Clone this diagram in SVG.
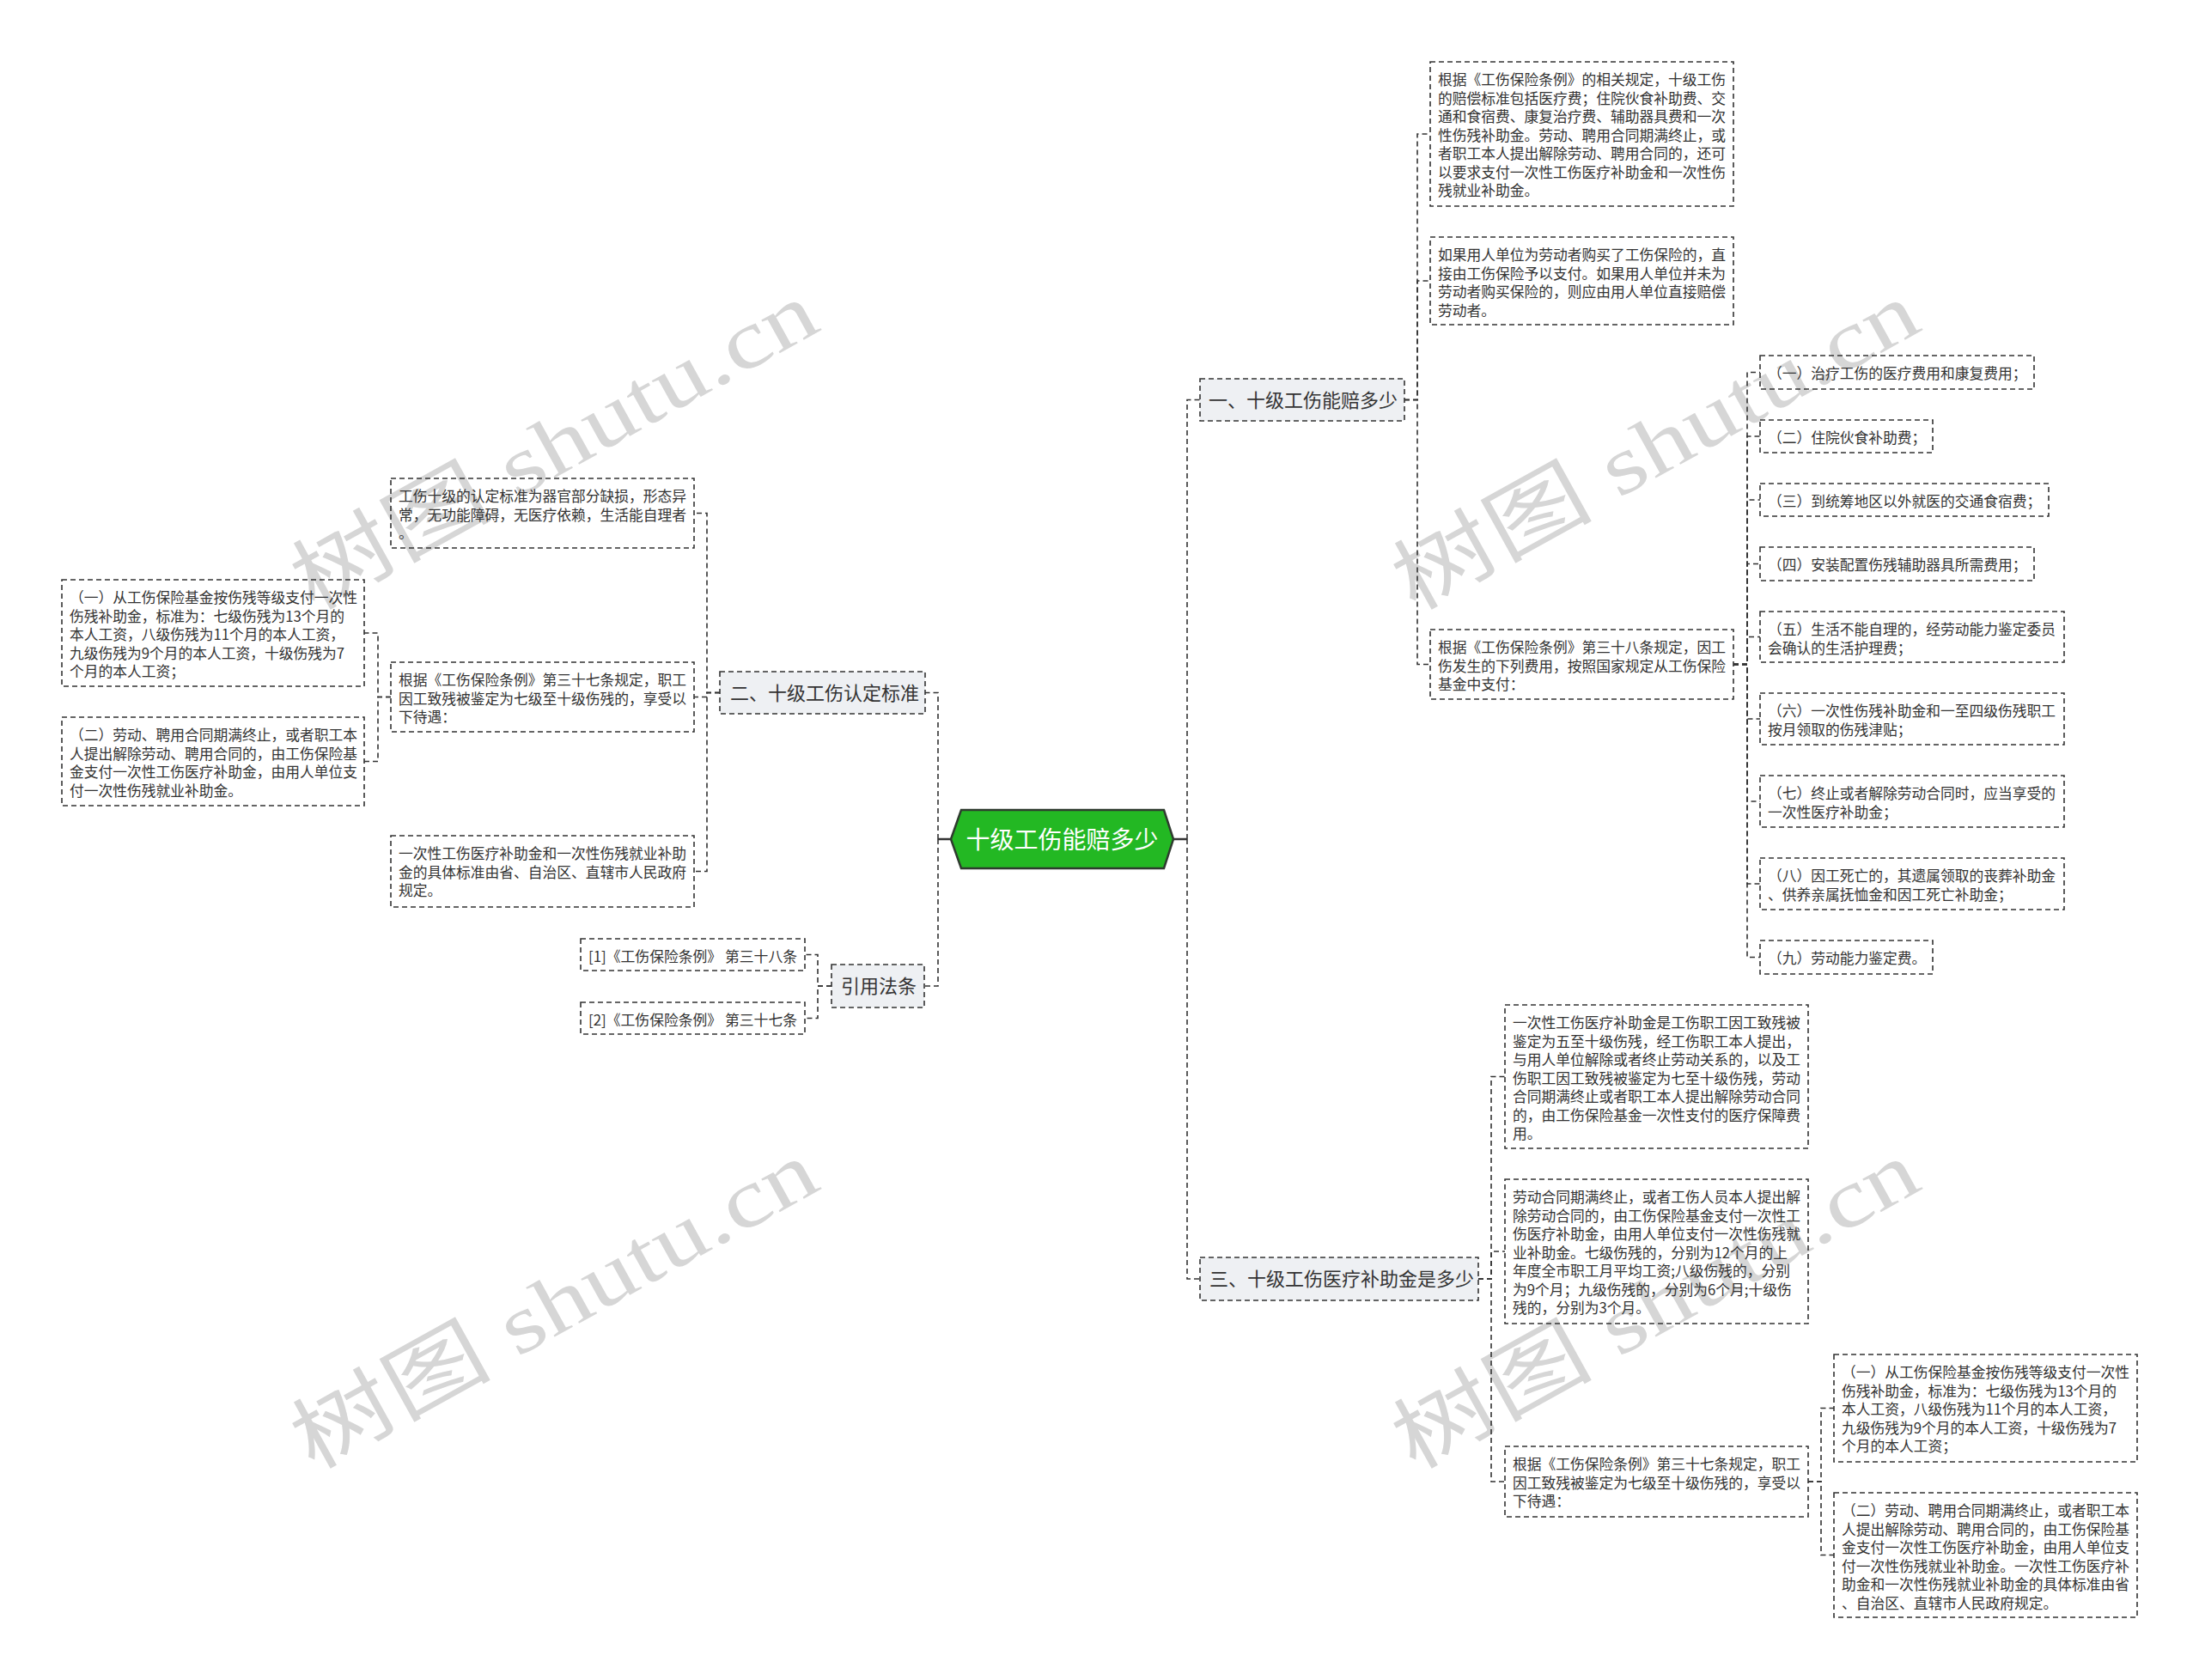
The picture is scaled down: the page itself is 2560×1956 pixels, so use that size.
<svg xmlns="http://www.w3.org/2000/svg" width="2560" height="1956" viewBox="0 0 2560 1956">
<style>
.wm{font-family:"Liberation Serif","Noto Sans CJK SC",serif;font-size:96px;fill:#d6d6d6;}
.leaf rect{fill:none;stroke:#333;stroke-width:1.6;stroke-dasharray:6,4;}
.leaf text{font-family:"Noto Sans CJK SC","Noto Sans",sans-serif;font-size:16.75px;fill:#333;}
.br rect{fill:#eef0f3;stroke:#333;stroke-width:1.6;stroke-dasharray:6,4;}
.br text{font-family:"Noto Sans CJK SC","Noto Sans",sans-serif;font-size:22px;fill:#333;}
.conn path{fill:none;stroke:#333;stroke-width:1.6;stroke-dasharray:6,4;}
.conn path.solid{stroke-dasharray:none;stroke-width:2.5;}
</style>
<rect width="2560" height="1956" fill="#ffffff"/>
<g id="watermarks">
<text class="wm" transform="translate(645,519) rotate(-29)" x="0" y="33" text-anchor="middle" textLength="680" lengthAdjust="spacingAndGlyphs">树图 shutu.cn</text>
<text class="wm" transform="translate(1927,519) rotate(-29)" x="0" y="33" text-anchor="middle" textLength="680" lengthAdjust="spacingAndGlyphs">树图 shutu.cn</text>
<text class="wm" transform="translate(645,1519) rotate(-29)" x="0" y="33" text-anchor="middle" textLength="680" lengthAdjust="spacingAndGlyphs">树图 shutu.cn</text>
<text class="wm" transform="translate(1927,1519) rotate(-29)" x="0" y="33" text-anchor="middle" textLength="680" lengthAdjust="spacingAndGlyphs">树图 shutu.cn</text>
</g>
<g id="connectors" class="conn">
<path class="solid" d="M1366,977 H1382"/>
<path class="solid" d="M1107,977 H1092"/>
<path d="M1382,977 V465.5 H1397"/>
<path d="M1382,977 V1489 H1397"/>
<path d="M1635,465.5 H1650 V156 H1665"/>
<path d="M1635,465.5 H1650 V327 H1665"/>
<path d="M1635,465.5 H1650 V773.5 H1665"/>
<path d="M2018,773.5 H2034 V433.5 H2049"/>
<path d="M2018,773.5 H2034 V508 H2049"/>
<path d="M2018,773.5 H2034 V582 H2049"/>
<path d="M2018,773.5 H2034 V656.5 H2049"/>
<path d="M2018,773.5 H2034 V741.5 H2049"/>
<path d="M2018,773.5 H2034 V837 H2049"/>
<path d="M2018,773.5 H2034 V933 H2049"/>
<path d="M2018,773.5 H2034 V1029 H2049"/>
<path d="M2018,773.5 H2034 V1114.5 H2049"/>
<path d="M1721,1489 H1736 V1253.5 H1752"/>
<path d="M1721,1489 H1736 V1457 H1752"/>
<path d="M1721,1489 H1736 V1725 H1752"/>
<path d="M2105,1725 H2120 V1639.5 H2135"/>
<path d="M2105,1725 H2120 V1810.5 H2135"/>
<path d="M1092,977 V806.5 H1077"/>
<path d="M1092,977 V1148 H1076"/>
<path d="M838,806.5 H823 V597.5 H808"/>
<path d="M838,806.5 H823 V811.5 H808"/>
<path d="M838,806.5 H823 V1014.5 H808"/>
<path d="M455,811.5 H440 V737 H424"/>
<path d="M455,811.5 H440 V886.5 H424"/>
<path d="M968,1148 H952 V1111.5 H937"/>
<path d="M968,1148 H952 V1185.5 H937"/>
</g>
<g id="center">
<polygon points="1107,977 1119,943 1355,943 1366,977 1355,1011 1119,1011" fill="#23b823" stroke="#2f3b2f" stroke-width="2.5"/>
<text x="1236.5" y="987.5" text-anchor="middle" font-family="Noto Sans CJK SC, Noto Sans, sans-serif" font-size="28" fill="#ffffff">十级工伤能赔多少</text>
</g>
<g id="b1" class="br"><rect x="1397" y="441" width="238" height="49"/><text x="1407" y="474">一、十级工伤能赔多少</text></g>
<g id="b2" class="br"><rect x="838" y="782" width="239" height="49"/><text x="850" y="815">二、十级工伤认定标准</text></g>
<g id="b4" class="br"><rect x="968" y="1123" width="108" height="50"/><text x="979" y="1156">引用法条</text></g>
<g id="b3" class="br"><rect x="1397" y="1464" width="324" height="50"/><text x="1408" y="1497">三、十级工伤医疗补助金是多少</text></g>
<g id="nA" class="leaf"><rect x="1665" y="72" width="353" height="168"/><text x="1674"><tspan x="1674" y="99.25">根据《工伤保险条例》的相关规定，十级工伤</tspan><tspan x="1674" y="120.75">的赔偿标准包括医疗费；住院伙食补助费、交</tspan><tspan x="1674" y="142.25">通和食宿费、康复治疗费、辅助器具费和一次</tspan><tspan x="1674" y="163.75">性伤残补助金。劳动、聘用合同期满终止，或</tspan><tspan x="1674" y="185.25">者职工本人提出解除劳动、聘用合同的，还可</tspan><tspan x="1674" y="206.75">以要求支付一次性工伤医疗补助金和一次性伤</tspan><tspan x="1674" y="228.25">残就业补助金。</tspan></text></g>
<g id="nB" class="leaf"><rect x="1665" y="276" width="353" height="102"/><text><tspan x="1674" y="303.25">如果用人单位为劳动者购买了工伤保险的，直</tspan><tspan x="1674" y="324.75">接由工伤保险予以支付。如果用人单位并未为</tspan><tspan x="1674" y="346.25">劳动者购买保险的，则应由用人单位直接赔偿</tspan><tspan x="1674" y="367.75">劳动者。</tspan></text></g>
<g id="nC" class="leaf"><rect x="1665" y="733" width="353" height="81"/><text><tspan x="1674" y="760.25">根据《工伤保险条例》第三十八条规定，因工</tspan><tspan x="1674" y="781.75">伤发生的下列费用，按照国家规定从工伤保险</tspan><tspan x="1674" y="803.25">基金中支付：</tspan></text></g>
<g id="c1" class="leaf"><rect x="2049" y="414" width="319" height="39"/><text><tspan x="2058" y="441.25">（一）治疗工伤的医疗费用和康复费用；</tspan></text></g>
<g id="c2" class="leaf"><rect x="2049" y="489" width="201" height="38"/><text><tspan x="2058" y="516.25">（二）住院伙食补助费；</tspan></text></g>
<g id="c3" class="leaf"><rect x="2049" y="563" width="336" height="38"/><text><tspan x="2058" y="590.25">（三）到统筹地区以外就医的交通食宿费；</tspan></text></g>
<g id="c4" class="leaf"><rect x="2049" y="637" width="319" height="39"/><text><tspan x="2058" y="664.25">（四）安装配置伤残辅助器具所需费用；</tspan></text></g>
<g id="c5" class="leaf"><rect x="2049" y="712" width="354" height="59"/><text><tspan x="2058" y="739.25">（五）生活不能自理的，经劳动能力鉴定委员</tspan><tspan x="2058" y="760.75">会确认的生活护理费；</tspan></text></g>
<g id="c6" class="leaf"><rect x="2049" y="807" width="354" height="60"/><text><tspan x="2058" y="834.25">（六）一次性伤残补助金和一至四级伤残职工</tspan><tspan x="2058" y="855.75">按月领取的伤残津贴；</tspan></text></g>
<g id="c7" class="leaf"><rect x="2049" y="903" width="354" height="60"/><text><tspan x="2058" y="930.25">（七）终止或者解除劳动合同时，应当享受的</tspan><tspan x="2058" y="951.75">一次性医疗补助金；</tspan></text></g>
<g id="c8" class="leaf"><rect x="2049" y="999" width="354" height="60"/><text><tspan x="2058" y="1026.25">（八）因工死亡的，其遗属领取的丧葬补助金</tspan><tspan x="2058" y="1047.75">、供养亲属抚恤金和因工死亡补助金；</tspan></text></g>
<g id="c9" class="leaf"><rect x="2049" y="1095" width="201" height="39"/><text><tspan x="2058" y="1122.25">（九）劳动能力鉴定费。</tspan></text></g>
<g id="nD" class="leaf"><rect x="1752" y="1170" width="353" height="167"/><text><tspan x="1761" y="1197.25">一次性工伤医疗补助金是工伤职工因工致残被</tspan><tspan x="1761" y="1218.75">鉴定为五至十级伤残，经工伤职工本人提出，</tspan><tspan x="1761" y="1240.25">与用人单位解除或者终止劳动关系的，以及工</tspan><tspan x="1761" y="1261.75">伤职工因工致残被鉴定为七至十级伤残，劳动</tspan><tspan x="1761" y="1283.25">合同期满终止或者职工本人提出解除劳动合同</tspan><tspan x="1761" y="1304.75">的，由工伤保险基金一次性支付的医疗保障费</tspan><tspan x="1761" y="1326.25">用。</tspan></text></g>
<g id="nE" class="leaf"><rect x="1752" y="1373" width="353" height="168"/><text><tspan x="1761" y="1400.25">劳动合同期满终止，或者工伤人员本人提出解</tspan><tspan x="1761" y="1421.75">除劳动合同的，由工伤保险基金支付一次性工</tspan><tspan x="1761" y="1443.25">伤医疗补助金，由用人单位支付一次性伤残就</tspan><tspan x="1761" y="1464.75">业补助金。七级伤残的，分别为12个月的上</tspan><tspan x="1761" y="1486.25">年度全市职工月平均工资;八级伤残的，分别</tspan><tspan x="1761" y="1507.75">为9个月；九级伤残的，分别为6个月;十级伤</tspan><tspan x="1761" y="1529.25">残的，分别为3个月。</tspan></text></g>
<g id="nF" class="leaf"><rect x="1752" y="1684" width="353" height="82"/><text><tspan x="1761" y="1711.25">根据《工伤保险条例》第三十七条规定，职工</tspan><tspan x="1761" y="1732.75">因工致残被鉴定为七级至十级伤残的，享受以</tspan><tspan x="1761" y="1754.25">下待遇：</tspan></text></g>
<g id="nG" class="leaf"><rect x="2135" y="1577" width="353" height="125"/><text><tspan x="2144" y="1604.25">（一）从工伤保险基金按伤残等级支付一次性</tspan><tspan x="2144" y="1625.75">伤残补助金，标准为：七级伤残为13个月的</tspan><tspan x="2144" y="1647.25">本人工资，八级伤残为11个月的本人工资，</tspan><tspan x="2144" y="1668.75">九级伤残为9个月的本人工资，十级伤残为7</tspan><tspan x="2144" y="1690.25">个月的本人工资；</tspan></text></g>
<g id="nH" class="leaf"><rect x="2135" y="1738" width="353" height="145"/><text><tspan x="2144" y="1765.25">（二）劳动、聘用合同期满终止，或者职工本</tspan><tspan x="2144" y="1786.75">人提出解除劳动、聘用合同的，由工伤保险基</tspan><tspan x="2144" y="1808.25">金支付一次性工伤医疗补助金，由用人单位支</tspan><tspan x="2144" y="1829.75">付一次性伤残就业补助金。一次性工伤医疗补</tspan><tspan x="2144" y="1851.25">助金和一次性伤残就业补助金的具体标准由省</tspan><tspan x="2144" y="1872.75">、自治区、直辖市人民政府规定。</tspan></text></g>
<g id="nI" class="leaf"><rect x="455" y="557" width="353" height="81"/><text><tspan x="464" y="584.25">工伤十级的认定标准为器官部分缺损，形态异</tspan><tspan x="464" y="605.75">常，无功能障碍，无医疗依赖，生活能自理者</tspan><tspan x="464" y="627.25">。</tspan></text></g>
<g id="nJ" class="leaf"><rect x="455" y="771" width="353" height="81"/><text><tspan x="464" y="798.25">根据《工伤保险条例》第三十七条规定，职工</tspan><tspan x="464" y="819.75">因工致残被鉴定为七级至十级伤残的，享受以</tspan><tspan x="464" y="841.25">下待遇：</tspan></text></g>
<g id="nK" class="leaf"><rect x="455" y="973" width="353" height="83"/><text><tspan x="464" y="1000.25">一次性工伤医疗补助金和一次性伤残就业补助</tspan><tspan x="464" y="1021.75">金的具体标准由省、自治区、直辖市人民政府</tspan><tspan x="464" y="1043.25">规定。</tspan></text></g>
<g id="nL" class="leaf"><rect x="72" y="675" width="352" height="124"/><text><tspan x="81" y="702.25">（一）从工伤保险基金按伤残等级支付一次性</tspan><tspan x="81" y="723.75">伤残补助金，标准为：七级伤残为13个月的</tspan><tspan x="81" y="745.25">本人工资，八级伤残为11个月的本人工资，</tspan><tspan x="81" y="766.75">九级伤残为9个月的本人工资，十级伤残为7</tspan><tspan x="81" y="788.25">个月的本人工资；</tspan></text></g>
<g id="nM" class="leaf"><rect x="72" y="835" width="352" height="103"/><text><tspan x="81" y="862.25">（二）劳动、聘用合同期满终止，或者职工本</tspan><tspan x="81" y="883.75">人提出解除劳动、聘用合同的，由工伤保险基</tspan><tspan x="81" y="905.25">金支付一次性工伤医疗补助金，由用人单位支</tspan><tspan x="81" y="926.75">付一次性伤残就业补助金。</tspan></text></g>
<g id="nN" class="leaf"><rect x="676" y="1093" width="261" height="37"/><text x="685" y="1120.25" textLength="243" lengthAdjust="spacingAndGlyphs">[1]《工伤保险条例》 第三十八条</text></g>
<g id="nO" class="leaf"><rect x="676" y="1167" width="261" height="37"/><text x="685" y="1194.25" textLength="243" lengthAdjust="spacingAndGlyphs">[2]《工伤保险条例》 第三十七条</text></g>
</svg>
